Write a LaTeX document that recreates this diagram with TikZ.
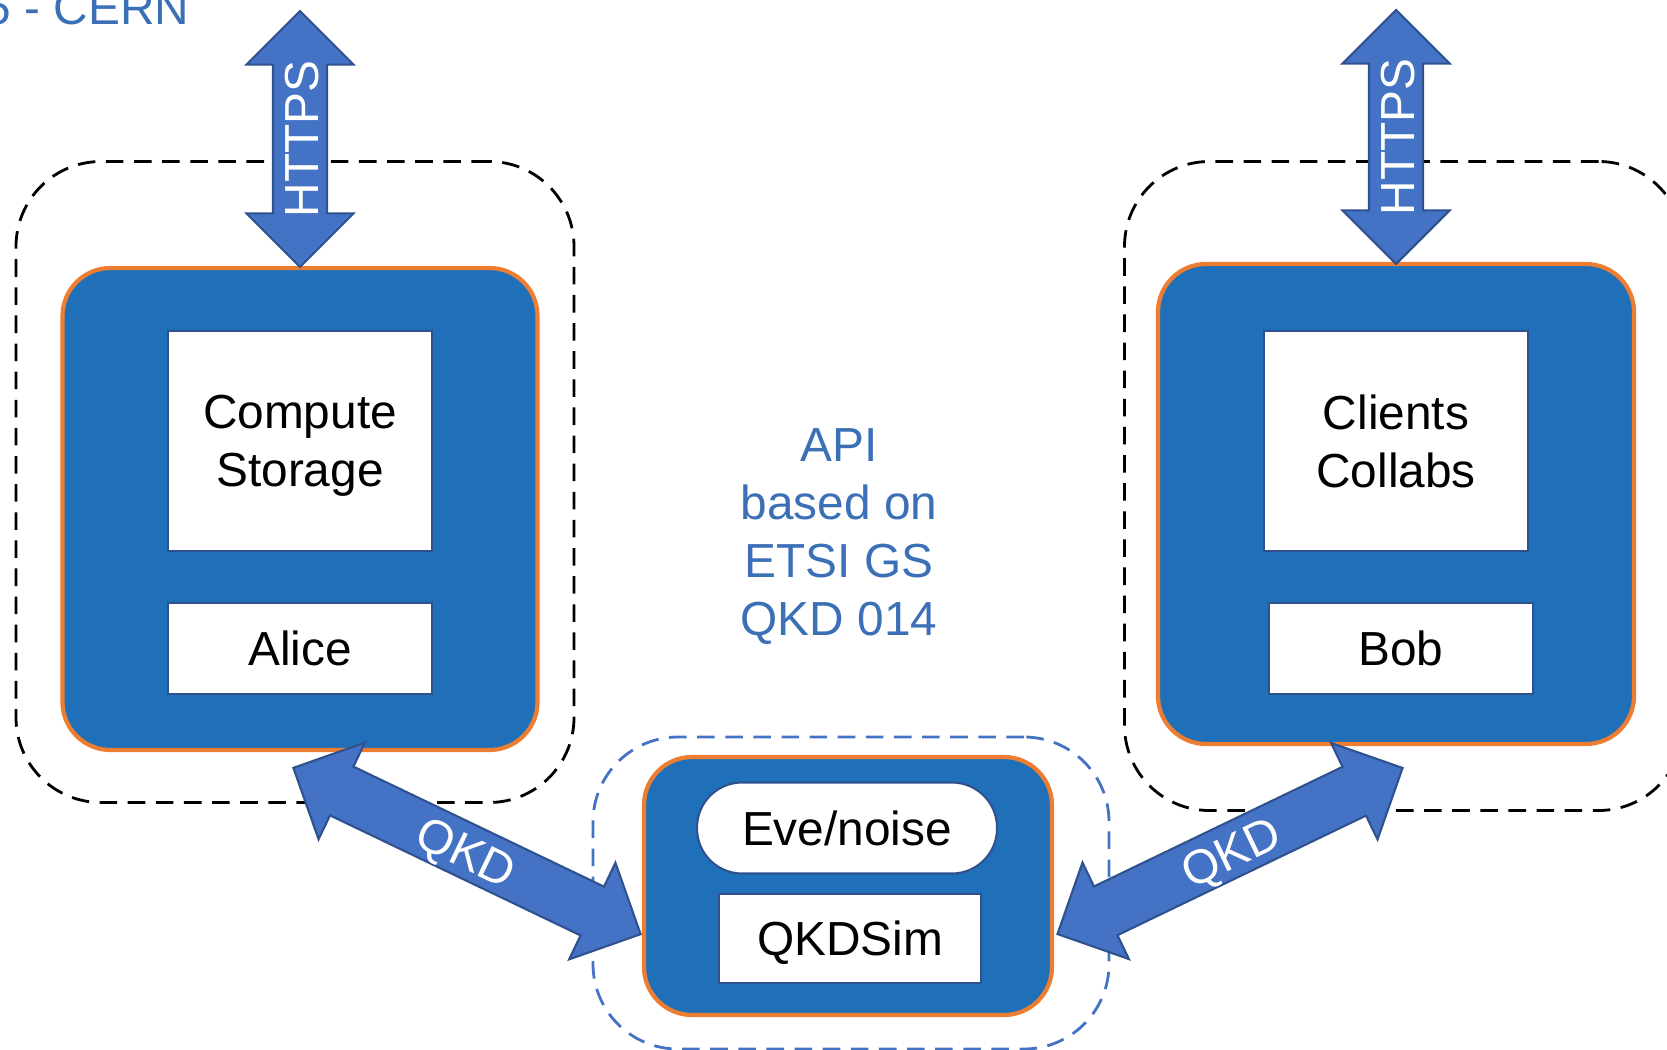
\documentclass[tikz,border=0pt]{standalone}
\usepackage{fontspec}
\setmainfont{Liberation Sans}
\usetikzlibrary{shapes,arrows.meta,positioning,calc}
\usepackage{xcolor}

\definecolor{hostblue}{HTML}{1F70B8}
\definecolor{hostedge}{HTML}{ED7D31}
\definecolor{linkblue}{HTML}{4472C4}
\definecolor{linkedge}{HTML}{2F528F}
\definecolor{noteblue}{HTML}{3B6FB6}

\begin{document}
\begin{tikzpicture}[
  x=0.1mm, y=-0.1mm,
  font=\fontsize{13.6}{16.5}\selectfont,
  zone/.style={draw, dash pattern=on 5pt off 3pt, line width=0.8pt, rounded corners=0.85cm},
  host/.style={draw=hostedge, fill=hostblue, line width=1.2pt, rounded corners=0.48cm},
  part/.style={draw=linkedge, fill=white, line width=0.6pt, minimum width=2.64cm, minimum height=0.91cm, align=center, text depth=0pt},
  link/.style={double arrow, draw=linkedge, fill=linkblue, line width=0.6pt, text=white,
    double arrow head extend=0.265cm, inner xsep=0pt, inner ysep=0pt, text height=0.44cm, text depth=0.08cm},
  note/.style={text=noteblue, align=center}
]
\useasboundingbox (0,0) rectangle (1667,1050);

% dashed zones
\node[zone, minimum width=5.58cm, minimum height=6.41cm] (zoneA) at (295,482) {};
\node[zone, minimum width=5.59cm, minimum height=6.49cm] (zoneB) at (1404,486) {};
\node[zone, draw=linkblue, minimum width=5.16cm, minimum height=3.12cm] (zoneS) at (851,893) {};

% Alice side
\node[host, minimum width=4.75cm, minimum height=4.82cm] (alicehost) at (300,509) {};
\node[part, minimum height=2.2cm] (compute) at (300,441) {Compute\\Storage};
\node[part, below=0.5cm of compute] (alice) {Alice};

% Bob side
\node[host, minimum width=4.76cm, minimum height=4.8cm] (bobhost) at (1396,504) {};
\node[part, minimum height=2.2cm] (clients) at (1396,441) {Clients\\Collabs};
\node[part, below=0.5cm of clients, xshift=0.05cm] (bob) {Bob};

% simulator
\node[host, minimum width=4.08cm, minimum height=2.58cm] (simhost) at (848,886) {};
\node[part, rounded corners=0.45cm, minimum width=3cm] (eve) at (847,828) {Eve/noise};
\node[part, below=0.18cm of eve, minimum width=2.62cm, minimum height=0.89cm, xshift=0.03cm] (qkdsim) {QKDSim};

% block arrows
\node[link, minimum height=2.56cm, rotate=90] (httpsA) at (300,139) {HTTPS};
\node[link, minimum height=2.54cm, rotate=90] (httpsB) at (1396,137) {HTTPS};
\node[link, minimum height=3.85cm, rotate=-25.6] (qkdA) at (467,851) {QKD};
\node[link, minimum height=3.83cm, rotate=25.7] (qkdB) at (1230,851) {QKD};

% texts
\node[note, anchor=base east, inner sep=0pt] (title) at (190,25) {5 - CERN};
\node[note] (api) at (839,537) {API\\based on\\ETSI GS\\QKD 014};
\end{tikzpicture}
\end{document}
